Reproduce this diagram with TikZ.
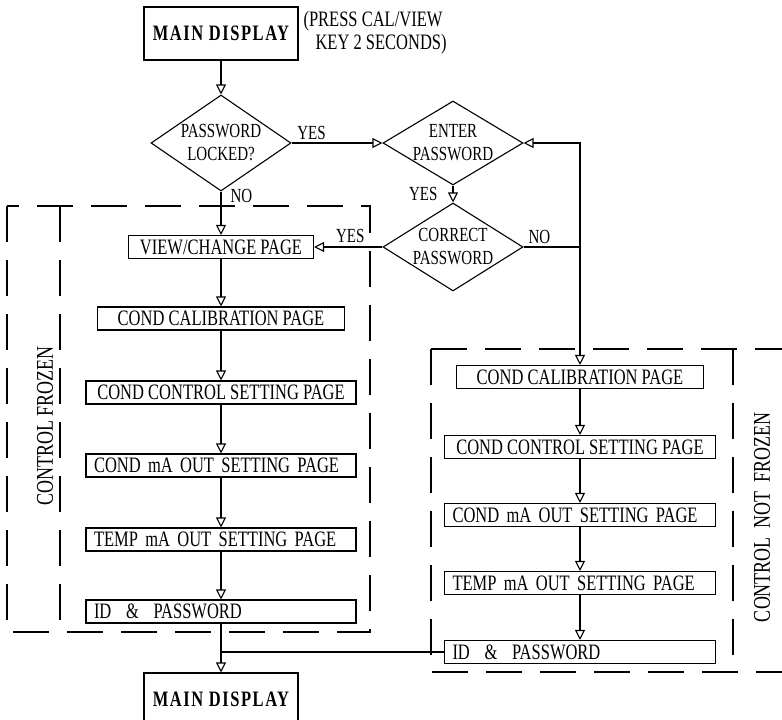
\documentclass[tikz,border=0pt]{standalone}
\usepackage{fontspec}
\setmainfont{Liberation Serif}[FakeStretch=0.75]
\newfontfamily\dispfont{Liberation Serif}[FakeStretch=0.75,LetterSpace=7]
\usetikzlibrary{arrows.meta,shapes.geometric,positioning}

\begin{document}
\begin{tikzpicture}[x=1pt, y=-1pt, line width=1.1pt,
    page/.style={draw, minimum width=#1, minimum height=23pt, inner sep=0pt,
                 font=\fontsize{22}{22}\selectfont},
    leftpage/.style={draw, text width=#1, align=left, minimum height=23pt,
                 inner ysep=0pt, inner xsep=8pt, font=\fontsize{22}{22}\selectfont},
    query/.style={draw, diamond, inner sep=-3pt, minimum width=140pt, align=center,
                  font=\fontsize{20}{23}\selectfont},
    display/.style={draw, minimum width=154pt, minimum height=53pt,
                    font=\dispfont\bfseries\fontsize{22}{22}\selectfont},
    flow/.style={-{Triangle[open,length=10pt,width=10pt]}},
    flowboth/.style={{Triangle[open,length=10pt,width=10pt]}-{Triangle[open,length=10pt,width=10pt]}},
    zone/.style={dash pattern=on 36pt off 18pt},
    tag/.style={font=\fontsize{20}{20}\selectfont, inner sep=1pt}]

    \clip (0,0) rectangle (782,720);

    % entry
    \node[display] (mainTop) at (221,33.5) {MAIN DISPLAY};
    \node[anchor=north west, align=left, inner sep=0pt,
          font=\fontsize{22}{23}\selectfont] (pressNote) at (303,11)
          {(PRESS CAL/VIEW\\\hspace{12pt}KEY 2 SECONDS)};

    % password check
    \node[query, aspect=1.46, minimum height=96pt] (locked) at (221,143) {PASSWORD\\LOCKED?};
    \node[query, aspect=1.67, minimum height=84pt] (enter) at (453,143) {ENTER\\PASSWORD};
    \node[query, aspect=1.59, minimum height=88pt] (correct) at (453,247) {CORRECT\\PASSWORD};

    % control frozen column
    \node[page=185pt] (viewPage) at (221,247) {VIEW/CHANGE PAGE};
    \node[page=247pt] (calL) at (221,318.5) {COND CALIBRATION PAGE};
    \node[page=270pt] (ctrlL) at (221,392.5) {COND CONTROL SETTING PAGE};
    \node[leftpage=254pt] (maL) at (221,465.5) {COND mA OUT SETTING PAGE};
    \node[leftpage=254pt] (tempL) at (221,539.5) {TEMP mA OUT SETTING PAGE};
    \node[leftpage=254pt] (idL) at (221,611.5) {ID\ \ \&\ \ PASSWORD};

    % control not frozen column
    \node[page=247pt] (calR) at (580,377) {COND CALIBRATION PAGE};
    \node[page=271pt] (ctrlR) at (580,447) {COND CONTROL SETTING PAGE};
    \node[leftpage=255pt] (maR) at (580,515) {COND mA OUT SETTING PAGE};
    \node[leftpage=255pt] (tempR) at (580,583) {TEMP mA OUT SETTING PAGE};
    \node[leftpage=255pt] (idR) at (580,652) {ID\ \ \&\ \ PASSWORD};

    \node[display] (mainEnd) at (221,699.5) {MAIN DISPLAY};

    % zones
    \draw[zone] (7,206) rectangle (370,632);
    \draw[zone] (60,206) -- (60,632);
    \draw[zone] (431,349) -- (782,349);
    \draw[zone] (431,349) -- (431,672) -- (782,672);
    \draw[zone] (733,349) -- (733,672);
    \node[rotate=90, font=\fontsize{24}{24}\selectfont] (frozenTag) at (45,426) {CONTROL\ FROZEN};
    \node[rotate=90, font=\fontsize{24}{24}\selectfont] (notFrozenTag) at (762,517) {CONTROL\ \ NOT\ \ FROZEN};

    % connectors
    \draw[flow] (mainTop) -- (locked);
    \draw[flow] (locked) -- node[tag, pos=0.22, above=2pt] {YES} (enter);
    \draw[flow] (locked) -- node[tag, pos=0.1, right=8pt] {NO} (viewPage);
    \draw[flow] (enter) -- node[tag, left=14pt] {YES} (correct);
    \draw[flow] (correct) -- node[tag, pos=0.47, above=3pt] {YES} (viewPage);
    \draw[flowboth] (enter.east) -| (calR.north);
    \draw (correct.east) -- node[tag, pos=0.28, above=2pt] {NO} (correct.east -| calR.north);

    \foreach \a/\b in {viewPage/calL, calL/ctrlL, ctrlL/maL, maL/tempL, tempL/idL, idL/mainEnd}
        \draw[flow] (\a) -- (\b);
    \foreach \a/\b in {calR/ctrlR, ctrlR/maR, maR/tempR, tempR/idR}
        \draw[flow] (\a) -- (\b);

    \coordinate (merge) at (mainEnd.north |- idR.west);
    \draw (idR.west) -- (merge);
\end{tikzpicture}
\end{document}
